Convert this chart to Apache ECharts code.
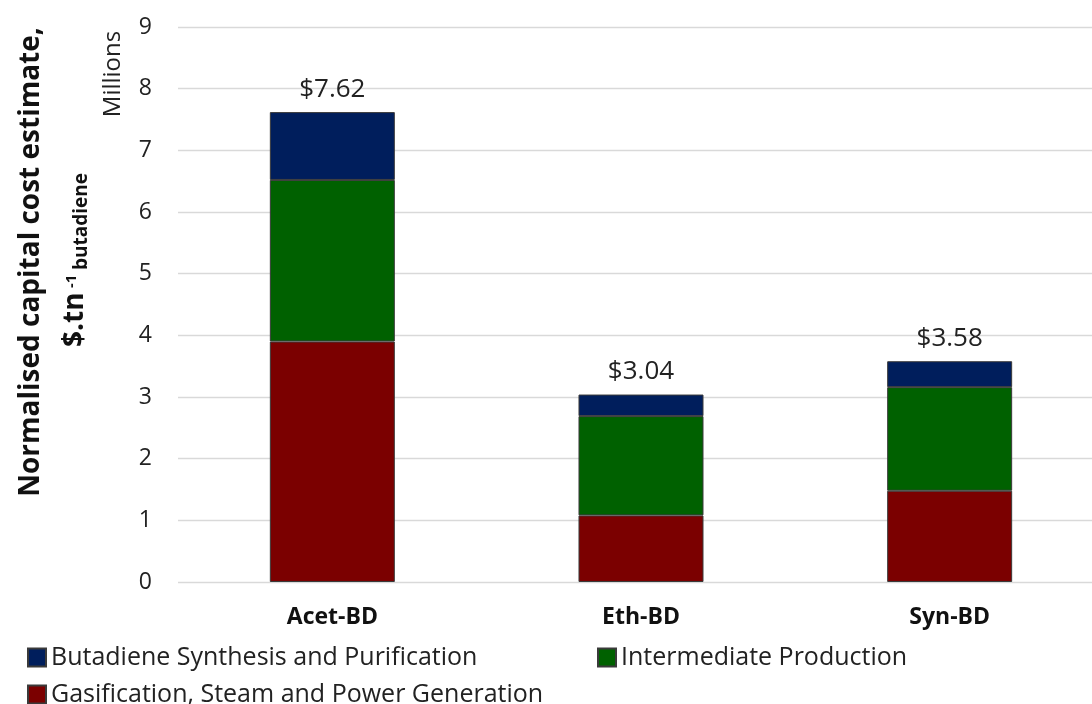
<!DOCTYPE html>
<html>
<head>
<meta charset="utf-8">
<script src="https://cdn.jsdelivr.net/npm/echarts@6/dist/echarts.min.js"></script>
<style>
  html, body { margin: 0; padding: 0; background: #fff; }
  #chart { width: 1092px; height: 704px; }
</style>
</head>
<body>
<div id="chart"></div>
<script>
var dom = document.getElementById('chart');
var myChart = echarts.init(dom);

// routes (categories)
var routes = ['Acet-BD', 'Eth-BD', 'Syn-BD'];
// cost per stage, millions $ per tonne butadiene
var gasification = [3.90, 1.08, 1.48];
var intermediate = [2.62, 1.61, 1.68];
var synthesis = [1.10, 0.35, 0.42];
var totals = ['$7.62', '$3.04', '$3.58'];
var yTicks = [0, 1, 2, 3, 4, 5, 6, 7, 8, 9];

var names = {
    syn: 'Butadiene Synthesis and Purification',
    inter: 'Intermediate Production',
    gas: 'Gasification, Steam and Power Generation'
};
var font = 'Open Sans';
var border = { borderColor: '#3a3a3a', borderWidth: 1 };

function legendAt(name, left, top) {
    return {
        data: [name],
        left: left,
        top: top,
        icon: 'rect',
        itemWidth: 18,
        itemHeight: 18,
        itemGap: 6,
        textStyle: { fontFamily: font, fontSize: 25, color: '#222' }
    };
}

var option = {
    animation: false,
    grid: { left: 178, right: -12, top: 27, bottom: 122, outerBoundsMode: 'none' },
    legend: [
        legendAt(names.syn, 22, 640),
        legendAt(names.inter, 592, 640),
        legendAt(names.gas, 22, 677)
    ],
    xAxis: {
        type: 'category',
        data: routes,
        axisLine: { show: false },
        axisTick: { show: false },
        axisLabel: {
            margin: 24, fontFamily: font, fontSize: 23,
            fontWeight: 'bold', color: '#111'
        }
    },
    yAxis: {
        type: 'value',
        min: yTicks[0],
        max: yTicks[yTicks.length - 1],
        interval: 1,
        axisLine: { show: false },
        axisTick: { show: false },
        axisLabel: { margin: 26, fontFamily: font, fontSize: 23, color: '#222' },
        splitLine: { lineStyle: { color: '#d9d9d9', width: 1.3 } }
    },
    graphic: [
        {
            type: 'text', x: 31, y: 262, rotation: Math.PI / 2,
            style: {
                text: 'Normalised capital cost estimate,',
                font: 'bold 28px "Open Sans"', fill: '#111',
                align: 'center', verticalAlign: 'middle'
            }
        },
        {
            type: 'group', x: 0, y: 347, rotation: Math.PI / 2,
            children: [
                {
                    type: 'text', x: 0, y: 75,
                    style: { text: '$.tn', font: 'bold 28px "Open Sans"', fill: '#111', align: 'left', verticalAlign: 'middle' }
                },
                {
                    type: 'text', x: 59, y: 72,
                    style: { text: '-1', font: 'bold 15px "Open Sans"', fill: '#111', align: 'left', verticalAlign: 'middle' }
                },
                {
                    type: 'text', x: 77, y: 82,
                    style: { text: 'butadiene', font: 'bold 19px "Open Sans"', fill: '#111', align: 'left', verticalAlign: 'middle' }
                }
            ]
        },
        {
            type: 'text', x: 113, y: 74, rotation: Math.PI / 2,
            style: {
                text: 'Millions', font: '24px "Open Sans"', fill: '#222',
                align: 'center', verticalAlign: 'middle'
            }
        }
    ],
    series: [
        {
            name: names.gas, type: 'bar', stack: 'cost', barWidth: '40.5%',
            data: gasification,
            itemStyle: Object.assign({ color: '#7b0000' }, border)
        },
        {
            name: names.inter, type: 'bar', stack: 'cost',
            data: intermediate,
            itemStyle: Object.assign({ color: '#006100' }, border)
        },
        {
            name: names.syn, type: 'bar', stack: 'cost',
            data: synthesis,
            itemStyle: Object.assign({ color: '#001e5c' }, border),
            label: {
                show: true, position: 'top', distance: 10,
                fontFamily: font, fontSize: 26, color: '#222',
                formatter: function (p) { return totals[p.dataIndex]; }
            }
        }
    ]
};

myChart.setOption(option, true);
</script>
</body>
</html>
